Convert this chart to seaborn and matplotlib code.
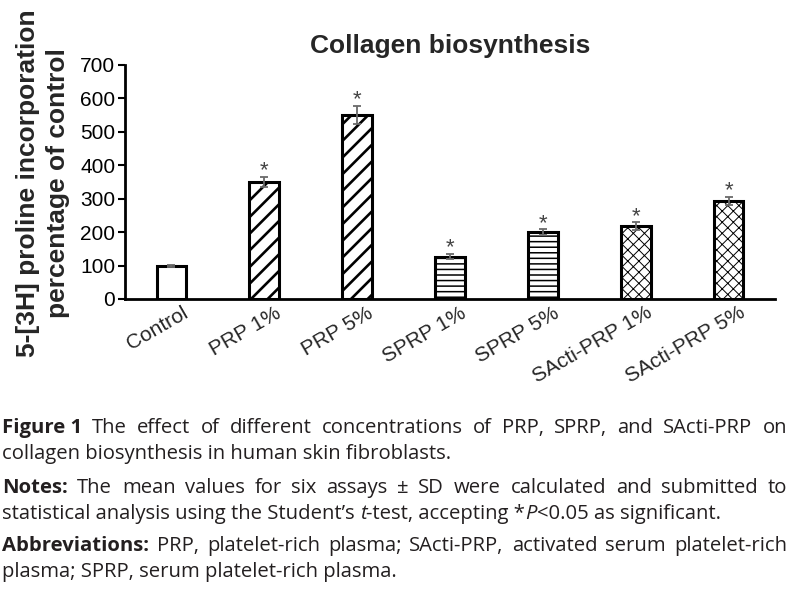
import matplotlib
matplotlib.use("Agg")
import matplotlib.pyplot as plt
import matplotlib.transforms as mtransforms
import numpy as np
import pandas as pd
import seaborn as sns

# ---------------- data ----------------
categories = ["Control", "PRP 1%", "PRP 5%", "SPRP 1%", "SPRP 5%",
              "SActi-PRP 1%", "SActi-PRP 5%"]
means = [100, 349, 551, 127, 200, 218, 292]
sds = [3, 15, 27, 7, 8, 11, 12]
significant = [False, True, True, True, True, True, True]
hatches = ["", "//", "//", "---", "---", "xxx", "xxx"]
hatch_widths = [1.0, 1.9, 1.9, 1.1, 1.1, 0.7, 0.7]
y_ticks = [0, 100, 200, 300, 400, 500, 600, 700]
title = "Collagen biosynthesis"
ylabel = "5-[3H] proline incorporation\npercentage of control"

# caption lines: list of tokens, token = list of (text, style); style n/b/i
caption_lines = [
    ([[("Figure 1", "b")], [("The", "n")], [("effect", "n")], [("of", "n")],
      [("different", "n")], [("concentrations", "n")], [("of", "n")],
      [("PRP,", "n")], [("SPRP,", "n")], [("and", "n")], [("SActi-PRP", "n")],
      [("on", "n")]], True),
    ([[("collagen biosynthesis in human skin fibroblasts.", "n")]], False),
    ([[("Notes:", "b")], [("The", "n")], [("mean", "n")], [("values", "n")],
      [("for", "n")], [("six", "n")], [("assays", "n")], [("\u00b1", "n")],
      [("SD", "n")], [("were", "n")], [("calculated", "n")], [("and", "n")],
      [("submitted", "n")], [("to", "n")]], True),
    ([[("statistical analysis using the Student\u2019s ", "n"), ("t", "i"),
       ("-test, accepting *", "n"), ("P", "i"), ("<0.05 as significant.", "n")]], False),
    ([[("Abbreviations:", "b")], [("PRP,", "n")], [("platelet-rich", "n")],
      [("plasma;", "n")], [("SActi-PRP,", "n")], [("activated", "n")],
      [("serum", "n")], [("platelet-rich", "n")]], True),
    ([[("plasma; SPRP, serum platelet-rich plasma.", "n")]], False),
]
caption_baselines = [433, 459, 493, 519, 551, 577]

# ---------------- style ----------------
sns.set_style("white")
plt.rcParams["font.family"] = ["Liberation Sans", "DejaVu Sans"]

W, H = 797, 595
fig = plt.figure(figsize=(W / 100, H / 100), dpi=100)
ax = fig.add_axes([125 / W, 1 - 299 / H, 650 / W, 234 / H])

df = pd.DataFrame({"group": categories, "value": means})
sns.barplot(data=df, x="group", y="value", order=categories, color="white",
            edgecolor="black", linewidth=2.2, width=0.32, errorbar=None,
            saturation=1, ax=ax, zorder=3)

for patch, h, hw in zip(ax.patches, hatches, hatch_widths):
    patch.set_facecolor("white")
    if h:
        patch.set_hatch(h)
        if hasattr(patch, "set_hatch_linewidth"):
            patch.set_hatch_linewidth(hw)

xs = np.arange(len(categories))
ax.errorbar(xs, means, yerr=sds, fmt="none", ecolor="#6a6a6a",
            elinewidth=1.3, capsize=3, capthick=1.3, zorder=4)

for x, m, s, sig in zip(xs, means, sds, significant):
    if sig:
        ax.annotate("*", (x, m + s), xytext=(0, 0.5), textcoords="offset points",
                    ha="center", va="baseline", fontsize=16, color="#444444")

ax.set_xlim(-0.5, len(categories) - 0.5)
ax.set_ylim(0, 700)
ax.set_yticks(y_ticks)
ax.set_yticklabels([str(v) for v in y_ticks], fontsize=15)
ax.tick_params(axis="y", direction="out", length=5, width=1.5, pad=2,
               left=True, colors="black")
ax.tick_params(axis="x", length=0, pad=3)
ax.set_xticks(xs)
ax.set_xticklabels(categories, fontsize=15, rotation=30, ha="right",
                   va="top", rotation_mode="anchor")
offset = mtransforms.ScaledTranslation(0.10, 0, fig.dpi_scale_trans)
for lab in ax.get_xticklabels():
    lab.set_transform(lab.get_transform() + offset)

for sp in ["top", "right"]:
    ax.spines[sp].set_visible(False)
for sp in ["left", "bottom"]:
    ax.spines[sp].set_linewidth(2)
    ax.spines[sp].set_color("black")

ax.set_xlabel("")
ax.set_title(title, fontsize=19, fontweight="bold", pad=9)
ax.set_ylabel(ylabel, fontsize=19, fontweight="bold", linespacing=1.35)
ax.yaxis.set_label_coords(-0.084, 0.496)

# ---------------- caption ----------------
cap_font = ["Open Sans", "DejaVu Sans"]
cap_color = "#231f20"
renderer = fig.canvas.get_renderer()
cap_size = 13.0


def make_piece(text, style, x_px, y_px, size):
    kw = dict(fontsize=size, color=cap_color, family=cap_font,
              va="baseline", ha="left", transform=None)
    if style == "b":
        kw["fontweight"] = "bold"
    elif style == "i":
        kw["fontstyle"] = "italic"
    return fig.text(x_px, H - y_px, text, **kw)


def width_of(t):
    return t.get_window_extent(renderer).width


# fit the caption size so the 4th line spans like the reference (~716 px)
probe = [make_piece(txt, st, 0, -200, cap_size) for txt, st in caption_lines[3][0][0]]
natural = sum(width_of(p) for p in probe)
for p in probe:
    p.remove()
cap_size = cap_size * 716.0 / natural

t1 = make_piece("a a", "n", 0, -100, cap_size)
t2 = make_piece("aa", "n", 0, -100, cap_size)
space_w = width_of(t1) - width_of(t2)
t1.remove()
t2.remove()

left_px, right_px = 2, 787
for (tokens, justify), base in zip(caption_lines, caption_baselines):
    tok_artists = []
    for tok in tokens:
        tok_artists.append([make_piece(text, style, 0, base, cap_size)
                            for text, style in tok])
    tok_widths = [sum(width_of(a) for a in arts) for arts in tok_artists]
    if justify and len(tokens) > 1:
        gap = (right_px - left_px - sum(tok_widths)) / (len(tokens) - 1)
    else:
        gap = space_w
    x = left_px
    for arts, tw in zip(tok_artists, tok_widths):
        xx = x
        for a in arts:
            a.set_x(xx)
            xx += width_of(a)
        x += tw + gap

fig.savefig("out.png", dpi=100)
